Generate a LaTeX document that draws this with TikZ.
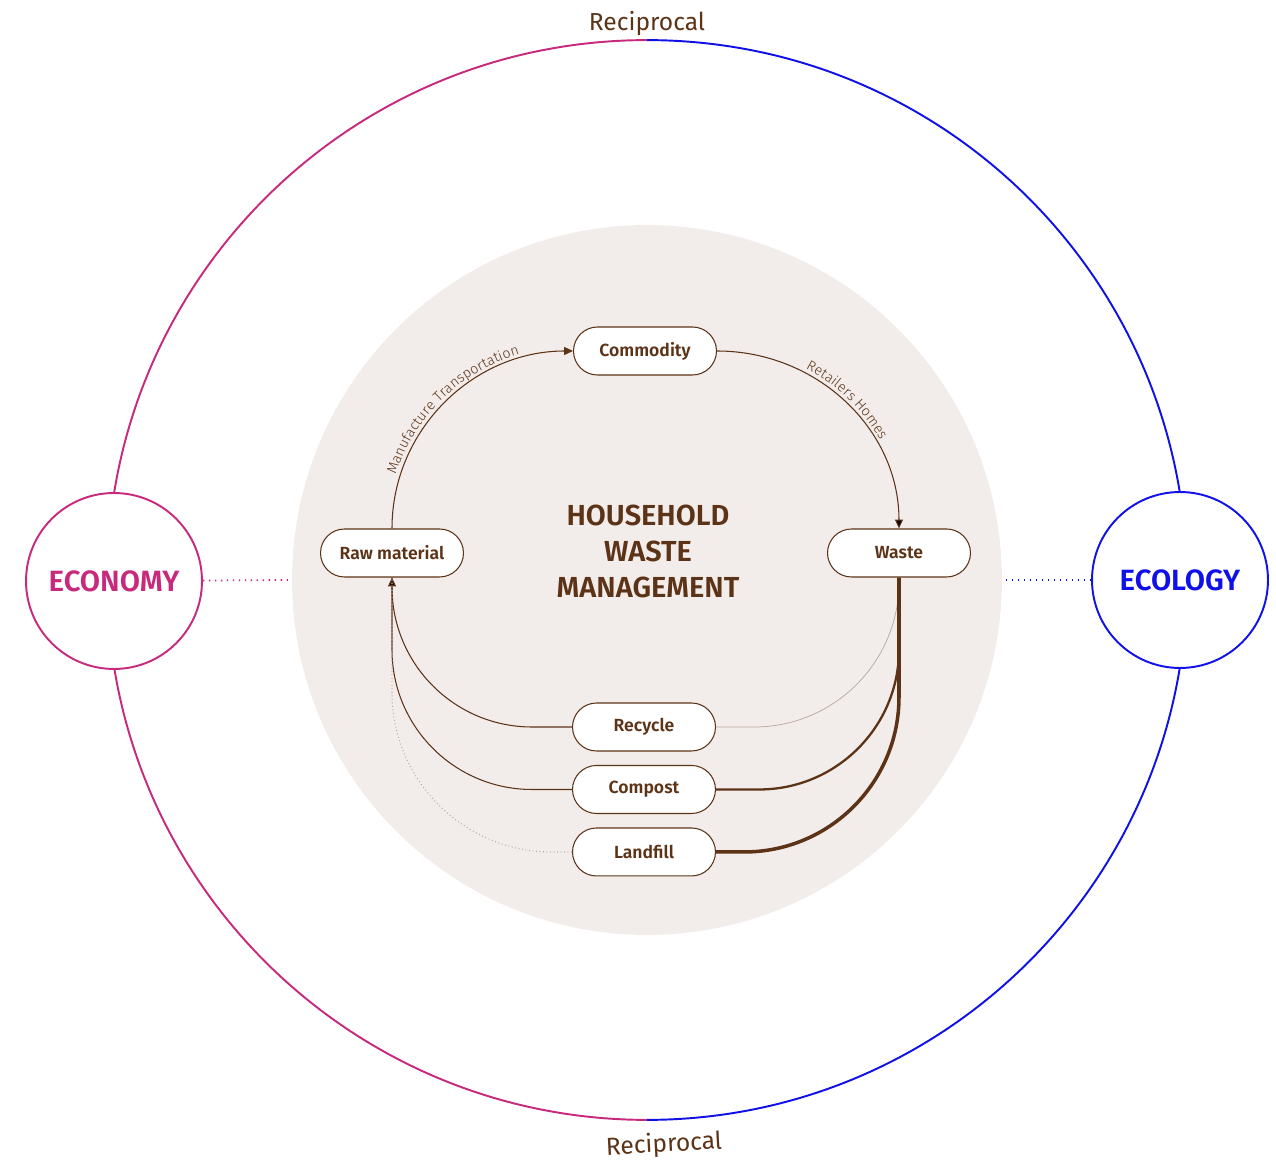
\documentclass[tikz,border=0pt]{standalone}
\usepackage{fontspec}
\setmainfont{Fira Sans}
\newfontfamily\semibold{Fira Sans SemiBold}
\newfontfamily\thinfont{Fira Sans Light}
\usetikzlibrary{arrows.meta, positioning, decorations.text}

\definecolor{bark}{HTML}{5C3317}
\definecolor{sand}{HTML}{F2EDEA}
\definecolor{econ}{HTML}{C72A7D}
\definecolor{eco}{HTML}{1010E8}
\definecolor{ash}{HTML}{B8A69E}

\tikzstyle{hub} = [
  circle,
  minimum size=14.2cm,
  inner sep=0,
  fill=sand
]
\tikzstyle{stage} = [
  rectangle,
  rounded corners=0.48cm,
  minimum width=2.86cm,
  minimum height=0.96cm,
  text centered,
  inner sep=0,
  draw=bark,
  line width=0.6pt,
  fill=white,
  text=bark,
  font=\semibold\fontsize{10}{12}\selectfont
]
\tikzstyle{pole} = [
  circle,
  minimum size=3.52cm,
  inner sep=0,
  line width=1.1pt,
  fill=white,
  font=\semibold\fontsize{16.7}{19}\selectfont
]
\tikzstyle{flow} = [
  draw=bark,
  line width=0.6pt
]
\tikzstyle{arrow} = [
  flow,
  -{Triangle[length=5pt,width=4.5pt]}
]
\tikzstyle{link} = [
  line width=1pt,
  dash pattern=on 0.8pt off 2.6pt
]
\tikzstyle{arclabel} = [
  decorate,
  decoration={text along path, text align=center, raise=2.5pt, text color=bark}
]

\begin{document}
\begin{tikzpicture}[x=0.02cm, y=0.02cm, node distance=1.25cm]

    \useasboundingbox (0,0) rectangle (1276,1161);

    % outer ring, half economy, half ecology
    \coordinate (c) at (647,581);
    \draw [econ, line width=1.1pt] ([yshift=10.8cm]c) arc[start angle=90, end angle=270, radius=10.8cm];
    \draw [eco, line width=1.1pt] ([yshift=10.8cm]c) arc[start angle=90, end angle=-90, radius=10.8cm];

    \node (hub) [hub] at (647,581) {};
    \node (title) [text=bark, align=center, font=\semibold\fontsize{16.5}{20.5}\selectfont] at (648,610) {HOUSEHOLD\\WASTE\\MANAGEMENT};

    \node (economy) [pole, draw=econ, text=econ] at (114,580) {ECONOMY};
    \node (ecology) [pole, draw=eco, text=eco] at (1180,581) {ECOLOGY};
    \node (recip top) [text=bark, font=\fontsize{14}{16}\selectfont] at (647,1137) {Reciprocal};
    \node (recip bottom) [text=bark, font=\fontsize{14}{16}\selectfont, rotate=3] at (664,16) {Reciprocal};

    \node (commodity) [stage] at (645,810) {Commodity};
    \node (raw) [stage] at (392,608) {Raw material};
    \node (waste) [stage] at (899,608) {Waste};
    \node (recycle) [stage] at (644,434) {Recycle};
    \node (compost) [stage, below of=recycle] {Compost};
    \node (landfill) [stage, below of=compost] {Landfill};

    \draw [link, econ] (economy) -- (hub.west);
    \draw [link, eco] (ecology) -- (hub.east);

    \draw [arrow] (raw.north) to[out=90,in=180] (commodity.west);
    \path [arclabel, decoration={text={|\thinfont\fontsize{8}{9}\selectfont|Manufacture Transportation}}] (raw.north) to[out=90,in=180] (commodity.west);
    \draw [arrow] (commodity.east) to[out=0,in=90] (waste.north);
    \path [arclabel, decoration={text={|\thinfont\fontsize{8}{9}\selectfont|Retailers Homes}}] (commodity.east) to[out=0,in=90] (waste.north);

    % waste going out
    \draw [flow, draw=ash, line width=0.4pt, rounded corners=2.9cm] (waste.south) |- (recycle.east);
    \draw [flow, line width=1.3pt, rounded corners=2.8cm] (waste.south) |- (compost.east);
    \draw [flow, line width=2pt, rounded corners=3.1cm] (waste.south) |- (landfill.east);

    % back to raw material
    \draw [arrow, rounded corners=2.8cm] (recycle.west) -| (raw.south);
    \draw [flow, rounded corners=2.8cm] (compost.west) -| (raw.south);
    \draw [flow, draw=ash, dash pattern=on 0.5pt off 1.5pt, rounded corners=3.2cm] (landfill.west) -| (raw.south);

  \end{tikzpicture}
\end{document}
